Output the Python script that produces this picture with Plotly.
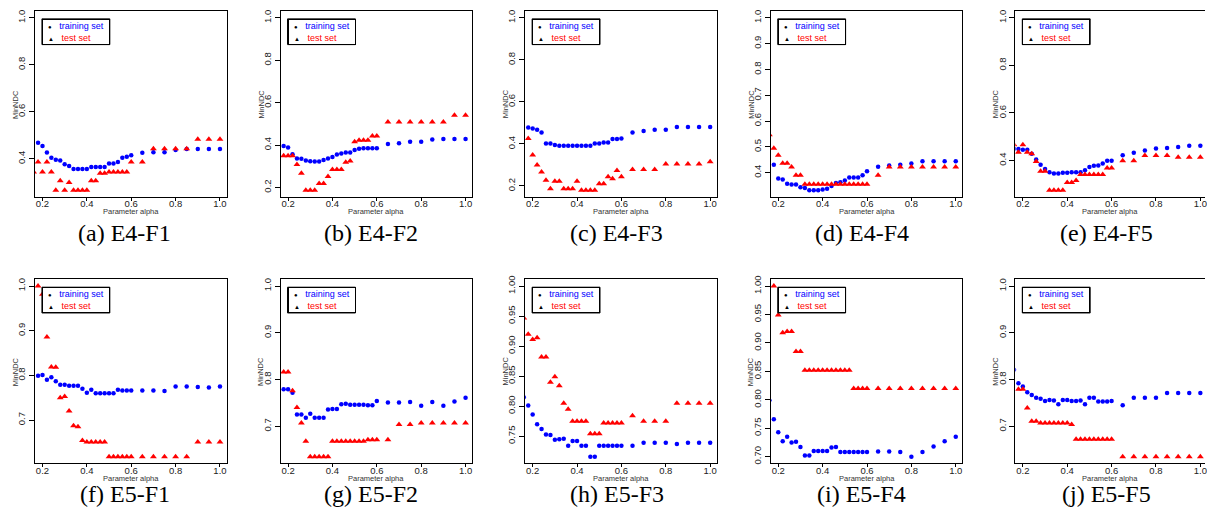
import plotly.graph_objects as go

# ---------------- data ----------------
alpha = [0.16, 0.18, 0.20, 0.22, 0.24, 0.26, 0.28, 0.30, 0.32, 0.34, 0.36, 0.38,
         0.40, 0.42, 0.44, 0.46, 0.48, 0.50, 0.52, 0.54, 0.56, 0.58, 0.60,
         0.65, 0.70, 0.75, 0.80, 0.85, 0.90, 0.95, 1.00]

captions = ["(a) E4-F1", "(b) E4-F2", "(c) E4-F3", "(d) E4-F4", "(e) E4-F5",
            "(f) E5-F1", "(g) E5-F2", "(h) E5-F3", "(i) E5-F4", "(j) E5-F5"]

train_e4f1 = [None, 0.468, 0.454, 0.427, 0.404, 0.396, 0.392, 0.376, 0.369, 0.356, 0.356, 0.356,
              0.356, 0.365, 0.365, 0.365, 0.365, 0.380, 0.380, 0.386, 0.404, 0.408, 0.415,
              0.425, 0.428, 0.428, 0.437, 0.441, 0.441, 0.441, 0.441]
test_e4f1 = [0.344, 0.386, 0.344, 0.386, 0.344, 0.266, 0.306, 0.266, 0.299, 0.266, 0.266, 0.266,
             0.266, 0.306, 0.306, 0.338, 0.338, 0.344, 0.344, 0.344, 0.344, 0.344, 0.386,
             0.386, 0.442, 0.442, 0.442, 0.442, 0.483, 0.483, 0.483]

train_e4f2 = [None, 0.396, 0.388, 0.357, 0.336, 0.335, 0.327, 0.324, 0.322, 0.322, 0.329, 0.336,
              0.344, 0.355, 0.360, 0.365, 0.365, 0.377, 0.382, 0.385, 0.385, 0.385, 0.385,
              0.405, 0.409, 0.416, 0.416, 0.426, 0.429, 0.429, 0.429]
test_e4f2 = [None, 0.349, 0.349, 0.349, 0.308, 0.267, 0.187, 0.187, 0.187, 0.219, 0.219, 0.252,
             0.285, 0.285, 0.285, 0.319, 0.325, 0.416, 0.423, 0.423, 0.423, 0.443, 0.443,
             0.509, 0.509, 0.509, 0.509, 0.509, 0.509, 0.540, 0.540]

train_e4f3 = [None, 0.478, 0.473, 0.467, 0.454, 0.402, 0.402, 0.395, 0.391, 0.391, 0.391, 0.391,
              0.391, 0.391, 0.391, 0.391, 0.402, 0.402, 0.407, 0.407, 0.423, 0.423, 0.426,
              0.454, 0.462, 0.468, 0.468, 0.481, 0.481, 0.481, 0.481]
test_e4f3 = [None, 0.426, 0.347, 0.300, 0.267, 0.227, 0.187, 0.222, 0.222, 0.187, 0.187, 0.187,
             0.222, 0.180, 0.180, 0.180, 0.180, 0.211, 0.211, 0.244, 0.235, 0.274, 0.244,
             0.278, 0.278, 0.278, 0.305, 0.305, 0.305, 0.305, 0.315]

train_e4f4 = [None, 0.431, 0.377, 0.373, 0.357, 0.354, 0.354, 0.343, 0.341, 0.332, 0.332, 0.332,
              0.335, 0.338, 0.348, 0.360, 0.363, 0.370, 0.381, 0.381, 0.381, 0.390, 0.405,
              0.423, 0.428, 0.431, 0.435, 0.444, 0.444, 0.444, 0.444]
test_e4f4 = [0.547, 0.495, 0.467, 0.436, 0.436, 0.422, 0.390, 0.390, 0.355, 0.355, 0.355, 0.355,
             0.355, 0.355, 0.355, 0.355, 0.355, 0.355, 0.355, 0.355, 0.355, 0.355, 0.355,
             0.390, 0.422, 0.422, 0.422, 0.422, 0.422, 0.422, 0.422]

train_e4f5 = [0.449, 0.448, 0.445, 0.445, 0.428, 0.404, 0.382, 0.364, 0.350, 0.345, 0.345, 0.348,
              0.348, 0.350, 0.350, 0.350, 0.359, 0.373, 0.378, 0.379, 0.387, 0.399, 0.399,
              0.422, 0.432, 0.442, 0.450, 0.453, 0.457, 0.462, 0.462]
test_e4f5 = [0.466, 0.435, 0.466, 0.435, 0.428, 0.396, 0.355, 0.355, 0.275, 0.275, 0.275, 0.275,
             0.307, 0.307, 0.316, 0.341, 0.341, 0.341, 0.341, 0.341, 0.341, 0.368, 0.368,
             0.399, 0.399, 0.421, 0.421, 0.421, 0.414, 0.414, 0.414]

train_e5f1 = [None, 0.799, 0.801, 0.790, 0.796, 0.787, 0.779, 0.779, 0.777, 0.777, 0.777, 0.770,
              0.761, 0.768, 0.760, 0.760, 0.760, 0.760, 0.760, 0.768, 0.766, 0.766, 0.766,
              0.766, 0.766, 0.765, 0.775, 0.775, 0.774, 0.773, 0.775]
test_e5f1 = [None, 1.000, 0.982, 0.886, 0.819, 0.818, 0.750, 0.753, 0.720, 0.687, 0.685, 0.654,
             0.651, 0.651, 0.651, 0.651, 0.651, 0.618, 0.618, 0.618, 0.618, 0.618, 0.618,
             0.618, 0.618, 0.618, 0.618, 0.618, 0.651, 0.651, 0.651]

train_e5f2 = [None, 0.779, 0.779, 0.772, 0.725, 0.725, 0.718, 0.727, 0.718, 0.718, 0.718, 0.736,
              0.737, 0.737, 0.747, 0.748, 0.746, 0.746, 0.746, 0.746, 0.745, 0.745, 0.754,
              0.751, 0.751, 0.752, 0.744, 0.752, 0.744, 0.753, 0.761]
test_e5f2 = [None, 0.816, 0.816, 0.776, 0.740, 0.707, 0.668, 0.635, 0.635, 0.635, 0.635, 0.635,
             0.668, 0.668, 0.668, 0.668, 0.668, 0.668, 0.668, 0.668, 0.671, 0.671, 0.671,
             0.671, 0.704, 0.704, 0.707, 0.707, 0.707, 0.707, 0.707]

train_e5f3 = [0.815, 0.801, 0.786, 0.770, 0.762, 0.753, 0.752, 0.744, 0.745, 0.746, 0.734, 0.742,
              0.742, 0.734, 0.734, 0.716, 0.716, 0.734, 0.734, 0.734, 0.734, 0.734, 0.734,
              0.734, 0.739, 0.739, 0.739, 0.737, 0.739, 0.739, 0.739]
test_e5f3 = [0.947, 0.920, 0.911, 0.914, 0.882, 0.882, 0.840, 0.849, 0.834, 0.805, 0.795, 0.775,
             0.775, 0.775, 0.775, 0.754, 0.754, 0.754, 0.772, 0.772, 0.772, 0.772, 0.772,
             0.784, 0.775, 0.775, 0.775, 0.805, 0.805, 0.805, 0.805]

train_e5f4 = [0.799, 0.766, 0.743, 0.727, 0.735, 0.725, 0.726, 0.717, 0.702, 0.702, 0.710, 0.710,
              0.710, 0.710, 0.716, 0.717, 0.708, 0.708, 0.708, 0.708, 0.708, 0.708, 0.708,
              0.709, 0.709, 0.708, 0.700, 0.708, 0.718, 0.727, 0.735]
test_e5f4 = [None, 1.000, 0.949, 0.918, 0.920, 0.920, 0.885, 0.885, 0.852, 0.852, 0.852, 0.852,
             0.852, 0.852, 0.852, 0.852, 0.852, 0.852, 0.852, 0.820, 0.820, 0.820, 0.820,
             0.820, 0.820, 0.820, 0.820, 0.820, 0.820, 0.820, 0.820]

train_e5f5 = [0.821, 0.792, 0.785, 0.773, 0.767, 0.761, 0.759, 0.754, 0.756, 0.755, 0.747, 0.756,
              0.756, 0.754, 0.754, 0.755, 0.747, 0.761, 0.761, 0.753, 0.753, 0.753, 0.754,
              0.745, 0.761, 0.761, 0.761, 0.771, 0.771, 0.771, 0.771]
test_e5f5 = [None, 0.779, 0.779, 0.739, 0.711, 0.711, 0.707, 0.707, 0.707, 0.707, 0.707, 0.707,
             0.707, 0.704, 0.672, 0.672, 0.672, 0.672, 0.672, 0.672, 0.672, 0.672, 0.672,
             0.635, 0.635, 0.635, 0.635, 0.635, 0.635, 0.635, 0.635]

train_sets = [train_e4f1, train_e4f2, train_e4f3, train_e4f4, train_e4f5,
              train_e5f1, train_e5f2, train_e5f3, train_e5f4, train_e5f5]
test_sets = [test_e4f1, test_e4f2, test_e4f3, test_e4f4, test_e4f5,
             test_e5f1, test_e5f2, test_e5f3, test_e5f4, test_e5f5]

x_ticks = [0.2, 0.4, 0.6, 0.8, 1.0]
y_step = [0.2, 0.2, 0.2, 0.1, 0.2, 0.1, 0.1, 0.05, 0.05, 0.1]
y_fmt = [".1f"] * 7 + [".2f", ".2f", ".1f"]

# ---------------- layout geometry (px) ----------------
W, H = 1207, 512
col_left = [35, 281, 526, 772, 1017]
col_right = [227, 473, 718, 964, 1207]
row_top = [7, 278]
row_bot = [195, 464]
cap_x = [125, 372, 618, 863, 1108]
cap_y = [231, 495]
LEG_W, LEG_H = 68, 26

BLUE = "#0000FF"
RED = "#FF0000"
SANS = "Liberation Sans, Arial, sans-serif"


def px(x):
    return x / W


def py(y):
    return 1 - y / H


legend_text = ("&nbsp;&nbsp;<span style='color:black;font-size:6px'>●</span>&nbsp;&nbsp;&nbsp;"
               "<span style='color:#0000FF'>training set</span><br>"
               "&nbsp;&nbsp;<span style='color:black;font-size:6px'>▲</span>&nbsp;&nbsp;&nbsp;"
               "<span style='color:#FF0000'>test set</span>")

fig = go.Figure()
annotations = []
shapes = []
layout_axes = {}

for i in range(10):
    r, c = divmod(i, 5)
    n = i + 1
    sfx = "" if n == 1 else str(n)
    tr, te = train_sets[i], test_sets[i]
    vals = [v for v in tr + te if v is not None]
    lo = min(vals)
    span = 1.0 - lo
    yr = [lo - 0.04 * span, 1.0 + 0.04 * span]
    xr = [0.166, 1.03] if c < 4 else [0.166, 1.021]

    fig.add_trace(go.Scatter(x=alpha, y=tr, mode="markers",
                             marker=dict(symbol="circle", size=4.5, color=BLUE),
                             xaxis="x" + sfx, yaxis="y" + sfx, showlegend=False))
    fig.add_trace(go.Scatter(x=alpha, y=te, mode="markers",
                             marker=dict(symbol="triangle-up", size=6, color=RED),
                             xaxis="x" + sfx, yaxis="y" + sfx, showlegend=False))

    L, R = col_left[c], col_right[c]
    T, B = row_top[r], row_bot[r]
    layout_axes["xaxis" + sfx] = dict(
        domain=[px(L), px(R)], range=xr, anchor="y" + sfx,
        showline=True, linecolor="black", linewidth=1, mirror=True,
        ticks="outside", ticklen=3, tickcolor="black", tickwidth=1,
        ticklabelstandoff=-5, ticklabeloverflow="allow",
        tickvals=x_ticks, tickformat=".1f",
        tickfont=dict(family=SANS, size=9.5, color="#222"),
        showgrid=False, zeroline=False)
    layout_axes["yaxis" + sfx] = dict(
        domain=[py(B), py(T)], range=yr, anchor="x" + sfx,
        showline=True, linecolor="black", linewidth=1, mirror=(c < 4),
        ticks="outside", ticklen=5, tickcolor="black", tickwidth=1,
        tick0=0, dtick=y_step[i], tickformat=y_fmt[i], tickangle=-90,
        tickfont=dict(family=SANS, size=9.5, color="#222"),
        showgrid=False, zeroline=False)

    # axis titles
    annotations.append(dict(text="Parameter alpha", x=px((L + R) / 2), y=py(B + 15),
                            xref="paper", yref="paper", showarrow=False,
                            xanchor="center", yanchor="middle",
                            font=dict(family=SANS, size=7.5, color="#333")))
    annotations.append(dict(text="MinNDC", x=px(L - 20), y=py((T + B) / 2),
                            xref="paper", yref="paper", showarrow=False, textangle=-90,
                            xanchor="center", yanchor="middle",
                            font=dict(family=SANS, size=7.5, color="#333")))

    # legend: frame rectangle plus a bordered text box with both entries
    bl, bt = L + 7, T + 8
    shapes.append(dict(type="rect", xref="paper", yref="paper", layer="above",
                       x0=px(bl), x1=px(bl + LEG_W), y0=py(bt + LEG_H), y1=py(bt),
                       line=dict(color="black", width=1), fillcolor="white"))
    annotations.append(dict(text=legend_text, x=px(bl), y=py(bt),
                            xref="paper", yref="paper", showarrow=False,
                            xanchor="left", yanchor="top", align="left", valign="middle",
                            width=LEG_W - 2, height=LEG_H - 2, borderpad=0,
                            bordercolor="black", borderwidth=1, bgcolor="white",
                            font=dict(family=SANS, size=9, color="black")))

    # caption
    annotations.append(dict(text=captions[i], x=px(cap_x[c]), y=py(cap_y[r]),
                            xref="paper", yref="paper", showarrow=False,
                            xanchor="center", yanchor="middle",
                            font=dict(family="Liberation Serif, Times New Roman, serif",
                                      size=24, color="black")))

fig.update_layout(
    width=W, height=H,
    margin=dict(l=0, r=0, t=0, b=0),
    paper_bgcolor="white", plot_bgcolor="rgba(0,0,0,0)",
    showlegend=False,
    shapes=shapes,
    annotations=annotations,
    **layout_axes,
)

fig.write_html("out.html",
               config={"displayModeBar": False},
               post_script="document.body.style.margin='0';document.body.style.padding='0';")
